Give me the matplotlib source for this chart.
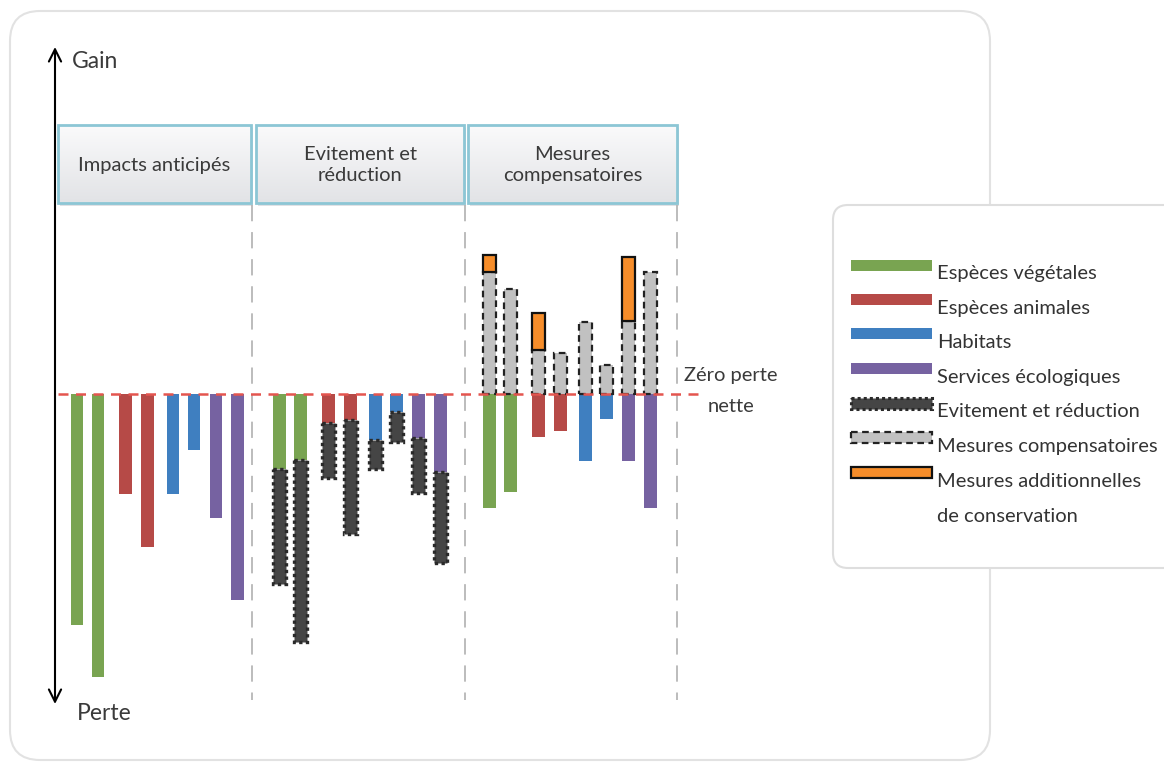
import numpy as np
import matplotlib
matplotlib.use("Agg")
import matplotlib.pyplot as plt
from matplotlib.patches import FancyBboxPatch, Rectangle

plt.rcParams['font.family'] = ['Lato', 'DejaVu Sans']

# ---------------- data ----------------
categories = ["Espèces végétales", "Espèces végétales", "Espèces animales", "Espèces animales",
              "Habitats", "Habitats", "Services écologiques", "Services écologiques"]
phases = ["Impacts anticipés", "Evitement et\nréduction", "Mesures\ncompensatoires"]
# phase 1 : anticipated impacts (loss)
impacts = [-23.1, -28.3, -10.0, -15.3, -10.0, -5.6, -12.4, -20.6]
# phase 2 : residual impact after avoidance/reduction and initial impact
residual_er = [-7.5, -6.6, -2.9, -2.6, -4.6, -1.8, -4.4, -7.8]
impact_er = [-19.0, -24.8, -8.4, -14.0, -7.5, -4.8, -9.9, -16.9]
# phase 3 : residual loss, compensation gains, additional conservation
residual_final = [-11.4, -9.8, -4.3, -3.7, -6.7, -2.5, -6.7, -11.4]
compensation = [12.2, 10.5, 4.4, 4.1, 7.2, 2.9, 7.3, 12.2]
additional = [1.7, 0.0, 3.7, 0.0, 0.0, 0.0, 6.4, 0.0]

legend_labels = ["Espèces végétales", "Espèces animales", "Habitats", "Services écologiques",
                 "Evitement et réduction", "Mesures compensatoires",
                 "Mesures additionnelles\nde conservation"]

cat_colors = {"Espèces végétales": "#79a451", "Espèces animales": "#b64a47",
              "Habitats": "#3f7fc0", "Services écologiques": "#7662a1"}
dark_col = "#454545"
grey_col = "#c1c1c1"
orange_col = "#f68d2a"

# ---------------- figure ----------------
W, H = 1164, 765
fig = plt.figure(figsize=(W / 100, H / 100), dpi=100)

bg = fig.add_axes([0, 0, 1, 1], zorder=0)
bg.set_xlim(0, W)
bg.set_ylim(H, 0)
bg.axis('off')

zero_px = 394.0
px_per_unit = 10.0
ax = fig.add_axes([0, 0, 1, 1], zorder=1)
ax.set_xlim(0, W)
ax.set_ylim((zero_px - H) / px_per_unit, zero_px / px_per_unit)
ax.axis('off')
ax.patch.set_alpha(0)

fg = fig.add_axes([0, 0, 1, 1], zorder=2)
fg.set_xlim(0, W)
fg.set_ylim(H, 0)
fg.axis('off')
fg.patch.set_alpha(0)

txt_col = "#3a3a3a"

# main rounded panel
bg.add_patch(FancyBboxPatch((10, 11), 980, 749, boxstyle="round,pad=0,rounding_size=30",
                            facecolor="white", edgecolor="#e2e2e2", linewidth=1.5))

# header boxes with gradient
header_x = [(58, 251), (256, 464), (468, 677)]
hy0, hy1 = 125, 203
grad = np.linspace(0, 1, 100).reshape(-1, 1)
cmap = matplotlib.colors.LinearSegmentedColormap.from_list("g", ["#fafafb", "#e2e3e6"])
for (x0, x1), label in zip(header_x, phases):
    bg.add_patch(Rectangle((x0 + 1.5, hy0 + 2.5), x1 - x0, hy1 - hy0, facecolor="#e0e1e4",
                           edgecolor="none", zorder=1))
    im = bg.imshow(grad, extent=(x0, x1, hy1, hy0), cmap=cmap, aspect='auto', zorder=2)
    rect = Rectangle((x0, hy0), x1 - x0, hy1 - hy0, facecolor="none",
                     edgecolor="#8cc6d5", linewidth=2.0, zorder=3)
    bg.add_patch(rect)
    im.set_clip_path(rect)
    bg.text((x0 + x1) / 2, (hy0 + hy1) / 2 + 1, label, ha='center', va='center',
            fontsize=14.5, color=txt_col, linespacing=1.3, zorder=4)

# vertical dashed separators
for xv in [252, 465, 677]:
    bg.plot([xv, xv], [205, 700], color="#b6b6b6", linewidth=1.3,
            dashes=(9, 6), zorder=1)

# vertical axis arrow
bg.annotate("", xy=(55, 47), xytext=(55, 704),
            arrowprops=dict(arrowstyle="<->", color="black", lw=1.5, mutation_scale=22,
                            shrinkA=0, shrinkB=0), zorder=5)
bg.text(72, 61, "Gain", ha='left', va='center', fontsize=16.5, color=txt_col)
bg.text(77, 713, "Perte", ha='left', va='center', fontsize=16.5, color=txt_col)

# zero line label
bg.text(731, 375, "Zéro perte", ha='center', va='center', fontsize=14.5, color=txt_col)
bg.text(731, 406, "nette", ha='center', va='center', fontsize=14.5, color=txt_col)

# ---------------- bars ----------------
group_starts = [77, 279.7, 489.7]
offsets = np.array([0, 21, 48.5, 70.5, 96, 117, 139, 160.5])
bw = 12.7
colors = [cat_colors[c] for c in categories]

# phase 1
x1 = group_starts[0] + offsets
ax.bar(x1, impacts, width=bw, color=colors, zorder=2)

# phase 2
x2 = group_starts[1] + offsets
ax.bar(x2, residual_er, width=bw, color=colors, zorder=2)
dark_len = np.array(impact_er) - np.array(residual_er)
ax.bar(x2, dark_len, bottom=residual_er, width=bw, facecolor=dark_col,
       edgecolor="#2a2a2a", linewidth=2.4, linestyle=(0, (1, 1)), zorder=3)

# phase 3
x3 = group_starts[2] + offsets
ax.bar(x3, residual_final, width=bw, color=colors, zorder=2)
ax.bar(x3, compensation, width=bw, facecolor=grey_col, edgecolor="#222222",
       linewidth=1.6, linestyle=(0, (3, 2)), zorder=3)
add = np.array(additional)
mask = add > 0
ax.bar(x3[mask], add[mask], bottom=np.array(compensation)[mask], width=bw,
       facecolor=orange_col, edgecolor="#111111", linewidth=1.6, zorder=4)

# zero line
ax.plot([58, 700], [0, 0], color="#e4554f", linewidth=1.8, dashes=(4, 3), zorder=5)

# ---------------- legend ----------------
fg.add_patch(FancyBboxPatch((833, 205), 345, 363, boxstyle="round,pad=0,rounding_size=15",
                            facecolor="white", edgecolor="#dedede", linewidth=1.5))
row_y = [265, 299, 333, 368, 403, 437, 472]
text_y = [273, 308, 342, 377, 411, 446, 481]
line_gap = 35
lx0, lx1, lh = 851, 932, 11
styles = [dict(facecolor=cat_colors[legend_labels[0]], edgecolor="none"),
          dict(facecolor=cat_colors[legend_labels[1]], edgecolor="none"),
          dict(facecolor=cat_colors[legend_labels[2]], edgecolor="none"),
          dict(facecolor=cat_colors[legend_labels[3]], edgecolor="none"),
          dict(facecolor=dark_col, edgecolor="#2a2a2a", linewidth=2.2, linestyle=(0, (1, 1))),
          dict(facecolor=grey_col, edgecolor="#222222", linewidth=1.6, linestyle=(0, (3, 2))),
          dict(facecolor=orange_col, edgecolor="#111111", linewidth=1.6)]
for yy, ty, lab, st in zip(row_y, text_y, legend_labels, styles):
    fg.add_patch(Rectangle((lx0, yy - lh / 2), lx1 - lx0, lh, **st))
    for k, line in enumerate(lab.split("\n")):
        fg.text(937, ty + k * line_gap, line, ha='left', va='center', fontsize=14.5,
                color="#333333")

fig.savefig("out.png", dpi=100)
